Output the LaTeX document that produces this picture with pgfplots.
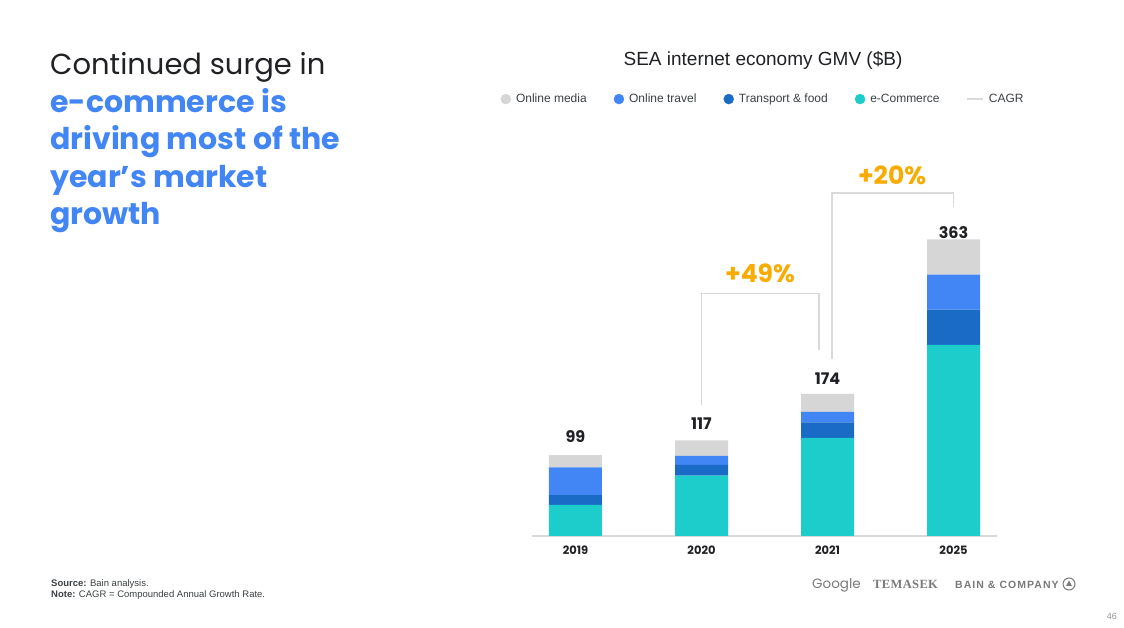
\documentclass[border=0pt]{standalone}
\usepackage{pgfplots}
\usepackage{pgfplotstable}
\pgfplotsset{compat=1.18}
\usepackage{fontspec}
\setmainfont{Liberation Sans}
\newfontfamily\pop{Poppins}
\newfontfamily\serifl{Liberation Serif}
\definecolor{cteal}{HTML}{1CCDCB}
\definecolor{cdark}{HTML}{1A6BC6}
\definecolor{cblue}{HTML}{4285F4}
\definecolor{cgrey}{HTML}{D6D6D6}
\definecolor{corange}{HTML}{F9AB00}
\definecolor{linegray}{HTML}{D9D9D9}
\definecolor{txt}{HTML}{202124}
\definecolor{legtxt}{HTML}{3C4043}
\definecolor{logogray}{HTML}{7A7A7A}
\pgfplotstableread{
x ecom tf travel media total
0 38 12 34 15 99
1 74 13 11 19 117
2 120 19 13 22 174
3 234 43 43 43 363
}\gmv
\begin{document}
\begin{tikzpicture}[x=1pt,y=1pt]
\path[fill=white] (0pt,0pt) rectangle (1124pt,628pt);
% left heading
\node[anchor=base west, inner sep=0, font=\pop\fontsize{29}{35}\selectfont, text=txt] at (50pt,553pt) {Continued surge in};
\node[anchor=base west, inner sep=0, font=\pop\bfseries\fontsize{30}{36}\selectfont, text=cblue] at (50pt,515pt) {e-commerce is};
\node[anchor=base west, inner sep=0, font=\pop\bfseries\fontsize{30}{36}\selectfont, text=cblue] at (50pt,478pt) {driving most of the};
\node[anchor=base west, inner sep=0, font=\pop\bfseries\fontsize{30}{36}\selectfont, text=cblue] at (50pt,440pt) {year’s market};
\node[anchor=base west, inner sep=0, font=\pop\bfseries\fontsize{30}{36}\selectfont, text=cblue] at (50pt,403pt) {growth};
% chart title
\node[font=\fontsize{19}{22}\selectfont, text=txt] at (763pt,568pt) {SEA internet economy GMV (\$B)};
% footnotes
\node[anchor=base west, inner sep=0, font=\fontsize{9.5}{11}\selectfont, text=legtxt] at (51pt,41pt) {\textbf{Source:} Bain analysis.};
\node[anchor=base west, inner sep=0, font=\fontsize{9.5}{11}\selectfont, text=legtxt] at (51pt,30pt) {\textbf{Note:} CAGR = Compounded Annual Growth Rate.};
% logos
\node[anchor=base west, inner sep=0, font=\pop\fontsize{13.5}{16}\selectfont, text=logogray] at (812pt,39pt) {Google};
\node[anchor=base west, inner sep=0, font=\serifl\bfseries\fontsize{12.5}{15}\selectfont\addfontfeature{LetterSpace=3}, text=logogray] at (873pt,39pt) {TEMASEK};
\node[anchor=base west, inner sep=0, font=\bfseries\fontsize{10.5}{12}\selectfont\addfontfeature{LetterSpace=10}, text=logogray] at (955pt,39.5pt) {BAIN \& COMPANY};
\draw[logogray, line width=1pt] (1069pt,44pt) circle (6pt);
\fill[logogray] (1069pt,47.5pt) -- (1072pt,42pt) -- (1066pt,42pt) -- cycle;
\node[anchor=base east, inner sep=0, font=\fontsize{9}{11}\selectfont, text=logogray!80] at (1117pt,8pt) {46};
\begin{axis}[
  at={(532pt,92pt)}, anchor=south west,
  scale only axis, width=465pt, height=326.8pt,
  xmin=-0.345, xmax=3.345, ymin=0, ymax=400,
  ybar stacked, bar width=53pt,
  clip=false,
  axis x line=bottom, axis y line=none,
  axis line style={-, draw=linegray, line width=1.5pt},
  xtick={0,1,2,3}, xticklabels={2019,2020,2021,2025},
  major tick length=0pt,
  xticklabel style={font=\pop\bfseries\fontsize{11.5}{13}\selectfont, text=txt, inner sep=0pt, yshift=-10pt},
  ytick=\empty,
  legend columns=5,
  legend style={at={(0.497,1.337)}, anchor=center, draw=none, fill=none,
    font=\fontsize{12}{14}\selectfont, text=legtxt,
    /tikz/every odd column/.append style={column sep=3pt},
    /tikz/every even column/.append style={column sep=25pt}},
]
\addlegendimage{legend image code/.code={\fill[cgrey] (0pt,0pt) circle (5pt);}}
\addlegendentry{Online media}
\addlegendimage{legend image code/.code={\fill[cblue] (0pt,0pt) circle (5pt);}}
\addlegendentry{Online travel}
\addlegendimage{legend image code/.code={\fill[cdark] (0pt,0pt) circle (5pt);}}
\addlegendentry{Transport \& food}
\addlegendimage{legend image code/.code={\fill[cteal] (0pt,0pt) circle (5pt);}}
\addlegendentry{e-Commerce}
\addlegendimage{legend image code/.code={\draw[linegray, line width=1.3pt] (-8pt,0pt) -- (8pt,0pt);}}
\addlegendentry{CAGR}
\addplot[fill=cteal, draw=none, forget plot] table[x=x, y=ecom] {\gmv};
\addplot[fill=cdark, draw=none, forget plot] table[x=x, y=tf] {\gmv};
\addplot[fill=cblue, draw=none, forget plot] table[x=x, y=travel] {\gmv};
\addplot[fill=cgrey, draw=none, forget plot,
  nodes near coords, point meta=explicit symbolic,
  nodes near coords style={font=\pop\bfseries\fontsize{16}{18}\selectfont, text=txt, anchor=south, inner sep=0pt, yshift=18pt}]
  table[x=x, y=media, meta=total] {\gmv};
% CAGR brackets
\draw[linegray, line width=1.6pt] (axis cs:1,160) |- (axis cs:1.932,297) -- (axis cs:1.932,228);
\draw[linegray, line width=1.6pt] (axis cs:2.036,216.6) |- (axis cs:3,420) -- (axis cs:3,403);
\node[font=\pop\bfseries\fontsize{25}{28}\selectfont, text=corange] at (axis cs:1.464,322) {+49\%};
\node[font=\pop\bfseries\fontsize{25}{28}\selectfont, text=corange] at (axis cs:2.512,442) {+20\%};
\end{axis}
\pgfresetboundingbox
\path (0pt,0pt) rectangle (1124pt,628pt);
\end{tikzpicture}
\end{document}
